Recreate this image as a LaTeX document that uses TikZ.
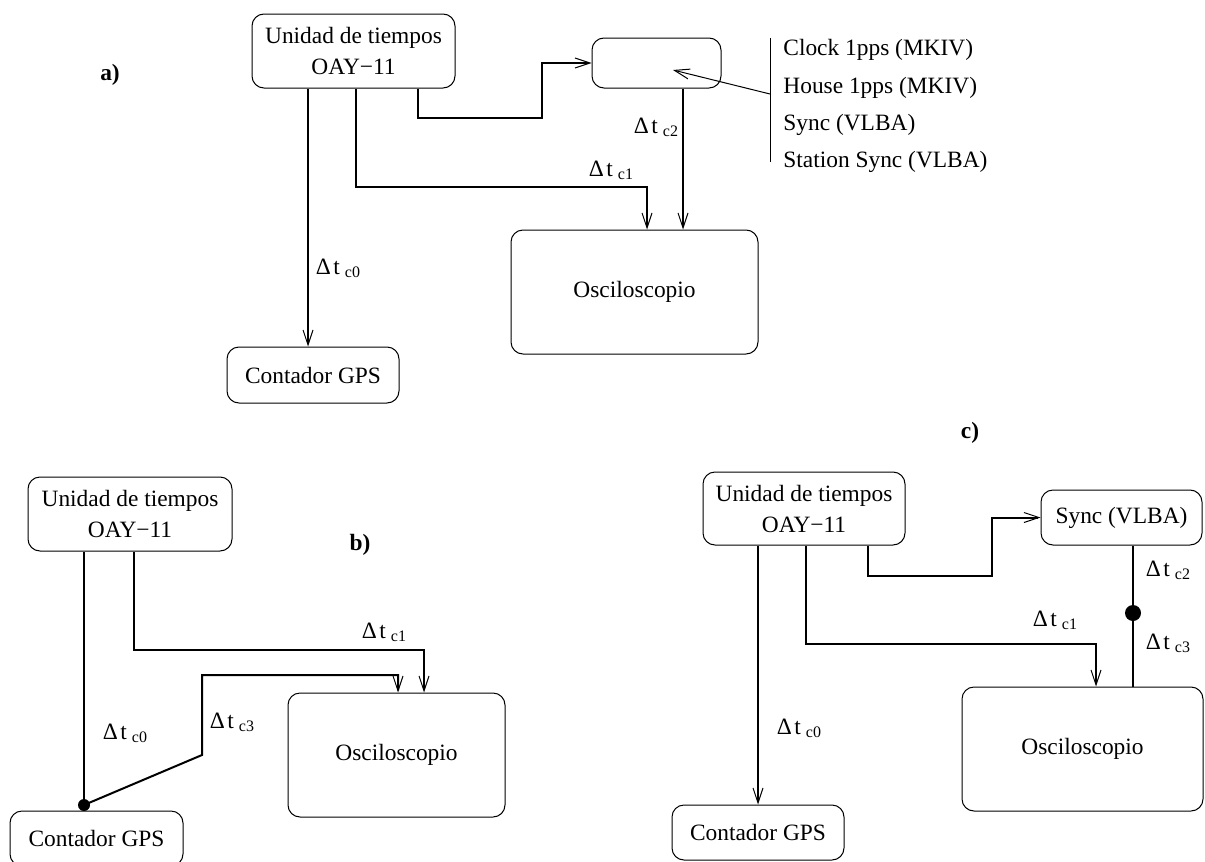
\documentclass[tikz,border=0pt]{standalone}
\usepackage{fontspec}
\setmainfont{Liberation Serif}
\usetikzlibrary{arrows.meta}
\tikzset{
  unitbox/.style={draw,line width=0.5pt,rounded corners=6pt,align=center,inner sep=0pt},
  wire/.style={line width=1pt},
  wirearr/.style={line width=1pt,-{Straight Barb[length=7.5pt,width=5pt,line width=0.5pt]}},
  thinarr/.style={line width=0.5pt,-{Straight Barb[length=7.5pt,width=5pt,line width=0.5pt]}},
  dtlabel/.style={inner sep=0pt},
  partlabel/.style={inner sep=0pt,font=\fontsize{11.7}{14}\selectfont\bfseries}
}
\newcommand{\dtc}[1]{Δ\hspace{1.2pt}t\hspace{2.5pt}\raisebox{-1.5pt}{\fontsize{8}{9}\selectfont c#1}}

\begin{document}
\begin{tikzpicture}[x=0.5pt,y=-0.5pt,font=\fontsize{11.7}{15.5}\selectfont]
  \clip (0,0) rectangle (1205,862);

  % a)
  \node[partlabel] (pa) at (110,75) {a)};
  \node[unitbox,minimum width=101.5pt,minimum height=37pt] (ua) at (353.5,51) {Unidad de tiempos\\OAY−11};
  \node[unitbox,minimum width=64.5pt,minimum height=25pt] (syna) at (656.5,63) {};
  \node[unitbox,minimum width=123.5pt,minimum height=62pt] (osca) at (634.5,292) {Osciloscopio};
  \node[unitbox,minimum width=86pt,minimum height=28pt] (gpsa) at (313,375) {Contador GPS};
  \coordinate (a0) at (308,0);
  \coordinate (a1) at (356,0);
  \coordinate (a1b) at (647,187);
  \coordinate (a2) at (418,0);
  \coordinate (a2b) at (542,118);
  \coordinate (a3) at (683,0);
  \draw[wirearr] (ua.south -| a0) -- (gpsa.north -| a0);
  \draw[wirearr] (ua.south -| a1) |- (a1b) -- (osca.north -| a1b);
  \draw[wirearr] (ua.south -| a2) |- (a2b) |- (syna.west);
  \draw[wirearr] (syna.south -| a3) -- (osca.north -| a3);
  \node[dtlabel] (dta0) at (338,268) {\dtc{0}};
  \node[dtlabel] (dta1) at (611,170) {\dtc{1}};
  \node[dtlabel] (dta2) at (656,127) {\dtc{2}};

  \coordinate (bartop) at (770,38);
  \coordinate (barbot) at (770,162);
  \coordinate (barmid) at (770,94);
  \coordinate (bartip) at (673,70);
  \draw[line width=0.5pt] (bartop) -- (barbot);
  \draw[thinarr] (barmid) -- (bartip);
  \node[anchor=west,inner sep=0pt] (src1) at (783,50) {Clock 1pps (MKIV)};
  \node[anchor=west,inner sep=0pt] (src2) at (783,88) {House 1pps (MKIV)};
  \node[anchor=west,inner sep=0pt] (src3) at (783,125) {Sync (VLBA)};
  \node[anchor=west,inner sep=0pt] (src4) at (783,162) {Station Sync (VLBA)};

  % b)
  \node[partlabel] (pb) at (360,545) {b)};
  \node[unitbox,minimum width=102pt,minimum height=37pt] (ub) at (130,514) {Unidad de tiempos\\OAY−11};
  \node[unitbox,minimum width=108.5pt,minimum height=62pt] (oscb) at (396.5,755) {Osciloscopio};
  \node[unitbox,minimum width=86.5pt,minimum height=27.5pt] (gpsb) at (96.5,838.5) {Contador GPS};
  \coordinate (dotb) at (84,805);
  \coordinate (b1) at (134,0);
  \coordinate (b1b) at (424,650);
  \coordinate (b3a) at (202,755);
  \coordinate (b3b) at (398,675);
  \draw[wire] (ub.south -| dotb) -- (dotb);
  \draw[wirearr] (dotb) -- (b3a) |- (b3b) -- (oscb.north -| b3b);
  \draw[wirearr] (ub.south -| b1) |- (b1b) -- (oscb.north -| b1b);
  \fill (dotb) circle[radius=3pt];
  \node[dtlabel] (dtb0) at (125,733) {\dtc{0}};
  \node[dtlabel] (dtb1) at (384,632) {\dtc{1}};
  \node[dtlabel] (dtb3) at (232,722) {\dtc{3}};

  % c)
  \node[partlabel] (pc) at (970,433) {c)};
  \node[unitbox,minimum width=101pt,minimum height=36.5pt] (uc) at (804,508.5) {Unidad de tiempos\\OAY−11};
  \node[unitbox,minimum width=80.5pt,minimum height=27.5pt] (sync) at (1121.5,517.5) {Sync (VLBA)};
  \node[unitbox,minimum width=120.5pt,minimum height=62pt] (oscc) at (1082.5,749) {Osciloscopio};
  \node[unitbox,minimum width=86pt,minimum height=27.5pt] (gpsc) at (758,832.5) {Contador GPS};
  \coordinate (c1) at (806,0);
  \coordinate (c1b) at (1096,644);
  \coordinate (c2) at (868,0);
  \coordinate (c2b) at (992,576);
  \coordinate (dotc) at (1133,613);
  \draw[wirearr] (uc.south -| gpsc.north) -- (gpsc.north);
  \draw[wirearr] (uc.south -| c1) |- (c1b) -- (oscc.north -| c1b);
  \draw[wirearr] (uc.south -| c2) |- (c2b) |- (sync.west);
  \draw[wire] (sync.south -| dotc) -- (oscc.north -| dotc);
  \fill (dotc) circle[radius=4pt];
  \node[dtlabel] (dtc0) at (799,728) {\dtc{0}};
  \node[dtlabel] (dtc1) at (1055,620) {\dtc{1}};
  \node[dtlabel] (dtc2) at (1168,570) {\dtc{2}};
  \node[dtlabel] (dtc3) at (1168,643) {\dtc{3}};
\end{tikzpicture}
\end{document}
